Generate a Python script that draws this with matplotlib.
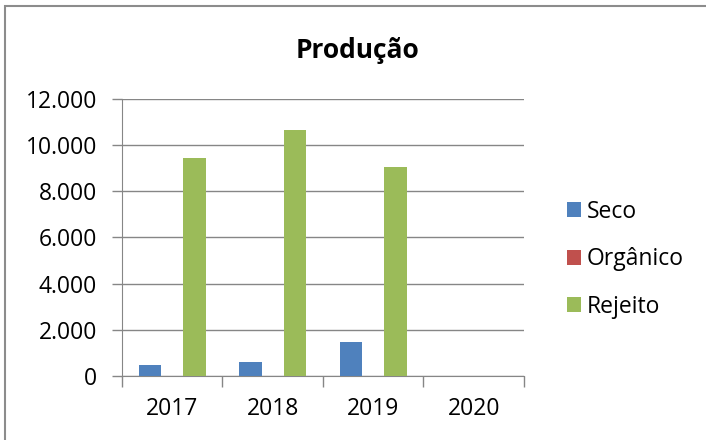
# Producao - grouped bar chart

import matplotlib.pyplot as plt
from matplotlib.patches import Rectangle
from matplotlib.ticker import FuncFormatter
import numpy as np

plt.rcParams['font.family'] = ['Open Sans', 'DejaVu Sans']

anos = ["2017", "2018", "2019", "2020"]
seco = [480, 600, 1480, 0]
organico = [0, 0, 0, 0]
rejeito = [9430, 10670, 9070, 0]
series = ["Seco", "Orgânico", "Rejeito"]
cores = ["#4F81BD", "#C0504D", "#9BBB59"]

fig = plt.figure(figsize=(7.06, 4.40), dpi=100)
ax = fig.add_axes([0.1728, 0.1455, 0.5694, 0.6295])

# outer chart border
fig.patches.append(Rectangle((5 / 706, -0.05), 1.1, 1 - 6 / 440 + 0.05,
                             transform=fig.transFigure, fill=False,
                             edgecolor="#8c8c8c", lw=1.5))

x = np.arange(len(anos))
w = 0.222
handles = []
for i, (vals, nome, cor) in enumerate(zip([seco, organico, rejeito], series, cores)):
    b = ax.bar(x + (i - 1) * w, vals, w, color=cor, label=nome, zorder=3)
    handles.append(b)

ax.set_xlim(-0.5, 3.5)
ax.set_ylim(0, 12000)
ax.set_yticks(range(0, 12001, 2000))
ax.yaxis.set_major_formatter(FuncFormatter(lambda v, p: f"{v:,.0f}".replace(",", ".")))
ax.grid(axis="y", color="#868686", lw=1, zorder=0)

ax.set_xticks(np.arange(-0.5, 4, 1))
ax.set_xticklabels([])
ax.set_xticks(x, minor=True)
ax.set_xticklabels(anos, minor=True)
ax.tick_params(axis="x", which="major", length=8, color="#868686", width=1)
ax.tick_params(axis="x", which="minor", length=0, pad=15, labelsize=16.5)
ax.tick_params(axis="y", length=7, color="#868686", width=1, labelsize=16.5, pad=11)

for s in ["top", "right"]:
    ax.spines[s].set_visible(False)
for s in ["left", "bottom"]:
    ax.spines[s].set_color("#868686")

fig.text(0.506, 0.886, "Produção", ha="center", va="center", fontsize=19, fontweight="bold")

ax.legend(handles=handles, loc="center left", bbox_to_anchor=(0.803, 0.411),
          bbox_transform=fig.transFigure, frameon=False, fontsize=16.5,
          labelspacing=1.03, handlelength=0.62, handleheight=0.62,
          handletextpad=0.25, borderaxespad=0, borderpad=0)

fig.savefig("out.png", dpi=100)
